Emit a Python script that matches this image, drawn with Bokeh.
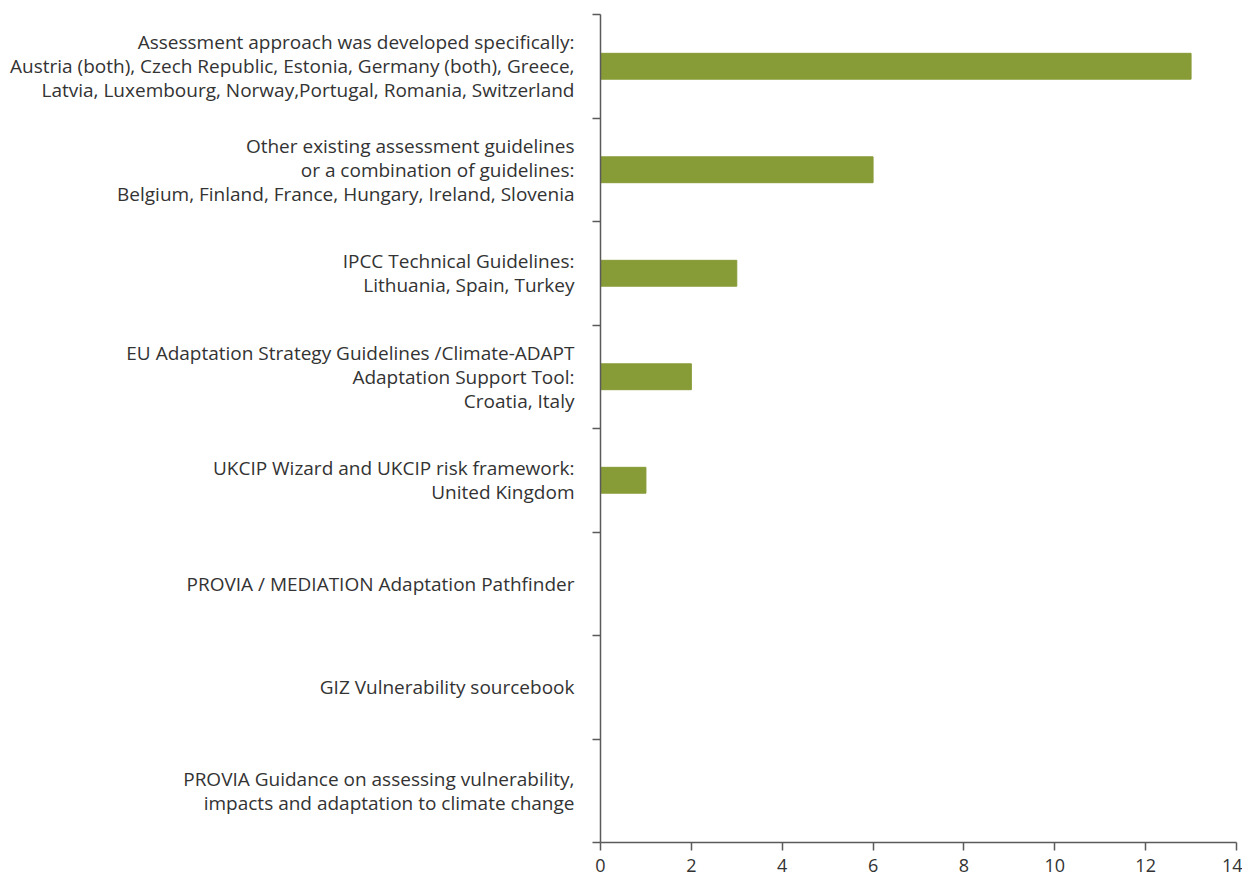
from bokeh.plotting import figure
from bokeh.models import Range1d, FixedTicker
from bokeh.embed import file_html
from bokeh.resources import INLINE

categories = [
    "Assessment approach was developed specifically:\nAustria (both), Czech Republic, Estonia, Germany (both), Greece,\nLatvia, Luxembourg, Norway,Portugal, Romania, Switzerland",
    "Other existing assessment guidelines\nor a combination of guidelines:\nBelgium, Finland, France, Hungary, Ireland, Slovenia",
    "IPCC Technical Guidelines:\nLithuania, Spain, Turkey",
    "EU Adaptation Strategy Guidelines /Climate-ADAPT\nAdaptation Support Tool:\nCroatia, Italy",
    "UKCIP Wizard and UKCIP risk framework:\nUnited Kingdom",
    "PROVIA / MEDIATION Adaptation Pathfinder",
    "GIZ Vulnerability sourcebook",
    "PROVIA Guidance on assessing vulnerability,\nimpacts and adaptation to climate change",
]
values = [13, 6, 3, 2, 1, 0, 0, 0]
x_ticks = [0, 2, 4, 6, 8, 10, 12, 14]

n = len(categories)
centers = [i + 0.5 for i in range(n)]

FONT = "Open Sans"
TEXT = "#333333"
AXIS = "#5a5a5a"

p = figure(width=1242, height=884, output_backend="svg", toolbar_location=None,
           x_range=Range1d(0, 14), y_range=Range1d(n, 0),
           min_border_left=600, min_border_right=6, min_border_top=14, min_border_bottom=42)

p.hbar(y=centers, left=0, right=values, height=0.25, color="#879b37")

p.xgrid.visible = False
p.ygrid.visible = False
p.outline_line_color = None

p.xaxis.ticker = FixedTicker(ticks=x_ticks, minor_ticks=[])
p.xaxis.major_tick_out = 8
p.xaxis.major_tick_in = 0
p.xaxis.minor_tick_line_color = None
p.xaxis.major_label_standoff = 8
p.xaxis.axis_line_color = AXIS
p.xaxis.major_tick_line_color = AXIS
p.xaxis.axis_line_width = 1.5
p.xaxis.major_tick_line_width = 1.5

p.yaxis.ticker = FixedTicker(ticks=centers, minor_ticks=list(range(n + 1)))
p.yaxis.major_label_overrides = {c: lab for c, lab in zip(centers, categories)}
p.yaxis.major_tick_line_color = None
p.yaxis.major_tick_out = 0
p.yaxis.major_tick_in = 0
p.yaxis.minor_tick_out = 8
p.yaxis.minor_tick_in = 0
p.yaxis.minor_tick_line_color = AXIS
p.yaxis.minor_tick_line_width = 1.5
p.yaxis.axis_line_color = AXIS
p.yaxis.axis_line_width = 1.5
p.yaxis.major_label_standoff = 18

for ax in (p.xaxis, p.yaxis):
    ax.major_label_text_font = FONT
    ax.major_label_text_color = TEXT

p.yaxis.major_label_text_font_size = "19px"
p.xaxis.major_label_text_font_size = "18px"
p.yaxis.major_label_text_line_height = 0.92

open("out.html", "w").write(file_html(p, INLINE))
